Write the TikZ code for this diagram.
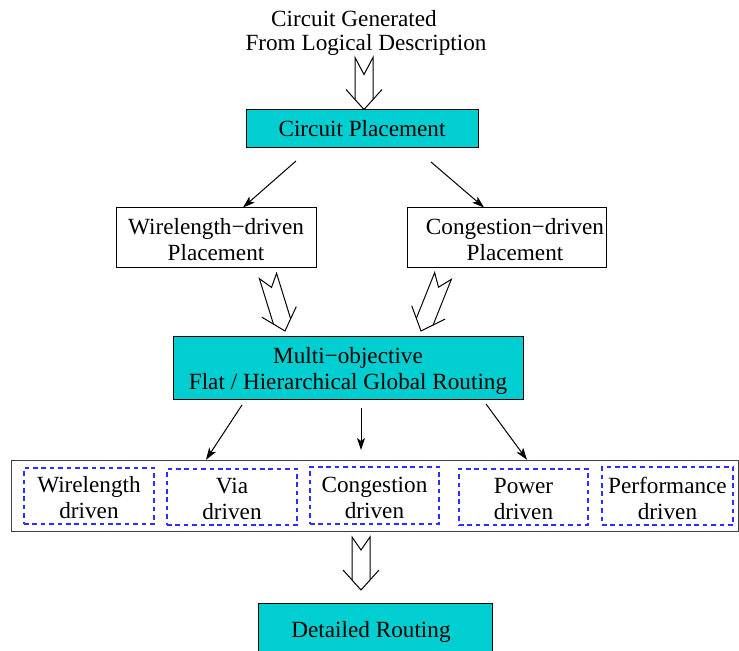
\documentclass[tikz,border=0pt]{standalone}
\usepackage{fontspec}
\setmainfont{Liberation Serif}
\usetikzlibrary{arrows.meta}
\definecolor{boxcyan}{RGB}{0,206,209}
\definecolor{dashblue}{RGB}{45,45,255}
\begin{document}
\begin{tikzpicture}[x=0.5pt,y=-0.5pt,
  font=\fontsize{11.6}{13}\selectfont,
  every node/.style={inner sep=0pt, align=center},
  solidbox/.style={draw=black, line width=0.5pt, fill=white},
  cyanbox/.style={solidbox, fill=boxcyan},
  groupbox/.style={draw=black!75, line width=0.7pt},
  dashbox/.style={draw=dashblue, line width=0.55pt, dash pattern=on 2.3pt off 1.9pt},
  boxtext/.style={yshift=-1pt},
  thinarrow/.style={line width=0.5pt, -{Stealth[length=6pt,width=4pt,inset=1.5pt]}},
  hollowline/.style={line width=0.5pt, line join=miter},
  % hollow block arrow, tip at the origin, pointing down; #1 = length, #2 = notch depth
  pics/hollow/.style n args={2}{code={
     \draw[hollowline] (-9,-10) -- (-9,-#1) -- (0,-#1+#2) -- (9,-#1) -- (9,-10);
     \draw[hollowline] (-18,-20) -- (0,0) -- (18,-20);
  }}]
\useasboundingbox (0,0) rectangle (739,651);
\clip (0,0) rectangle (739,651);

% input description
\node (t1) at (354,19) {Circuit Generated};
\node (t2) at (366,45) {From Logical Description};

% placement stage
\node[cyanbox, minimum width=116pt, minimum height=19pt] (place) at (362,129) {};
\node[boxtext] (place-t) at (362,126.5) {Circuit Placement};
\node[solidbox, minimum width=100pt, minimum height=30pt] (wl) at (216,238) {};
\node[boxtext] (wl-t) at (216,238) {Wirelength−driven\\Placement};
\node[solidbox, minimum width=99.5pt, minimum height=30pt] (cg) at (506.5,238) {};
\node[boxtext] (cg-t) at (515,238) {Congestion−driven\\Placement};

% global routing
\node[cyanbox, minimum width=175pt, minimum height=31.5pt] (gr) at (348,368.5) {};
\node[boxtext] (gr-t) at (348,368.5) {Multi−objective\\Flat / Hierarchical Global Routing};

% objectives
\node[groupbox, minimum width=363.5pt, minimum height=35.5pt] (obj) at (375,496) {};
\node[dashbox, minimum width=65pt, minimum height=28pt] (wd) at (89,496) {};
\node[dashbox, minimum width=65pt, minimum height=28pt] (vd) at (232,497) {};
\node[dashbox, minimum width=64.5pt, minimum height=28.5pt] (cd) at (374.5,495.5) {};
\node[dashbox, minimum width=64.5pt, minimum height=28pt] (pd) at (523.5,497) {};
\node[dashbox, minimum width=65.5pt, minimum height=29pt] (pfd) at (667.5,496) {};
\node[boxtext] (wd-t) at (wd) {Wirelength\\driven};
\node[boxtext] (vd-t) at (vd) {Via\\driven};
\node[boxtext] (cd-t) at (cd) {Congestion\\driven};
\node[boxtext] (pd-t) at (pd) {Power\\driven};
\node[boxtext] (pfd-t) at (pfd) {Performance\\driven};

% detailed routing
\node[cyanbox, minimum width=117pt, minimum height=27pt] (det) at (375,630.5) {};
\node[boxtext] (det-t) at (371,630) {Detailed Routing};

% thin connectors
\coordinate (p1) at (296,161);
\coordinate (p2) at (431,162);
\coordinate (g1) at (242,405);
\coordinate (g2) at (361,408);
\coordinate (g3) at (486,404);
\draw[thinarrow] (p1) -- (wl.north -| 243,0);
\draw[thinarrow] (p2) -- (cg.north -| 484,0);
\draw[thinarrow] (g1) -- (obj.north -| 206,0);
\draw[thinarrow] (g2) -- (361,450);
\draw[thinarrow] (g3) -- (obj.north -| 527,0);

% hollow block arrows
\pic at (place.north -| 364,0) {hollow={52}{17}};
\pic[rotate=17.2] at (285,331) {hollow={57.6}{12}};
\pic[rotate=-21.8] at (421,331) {hollow={59.2}{12}};
\pic at (361,590) {hollow={53}{13}};
\end{tikzpicture}
\end{document}
